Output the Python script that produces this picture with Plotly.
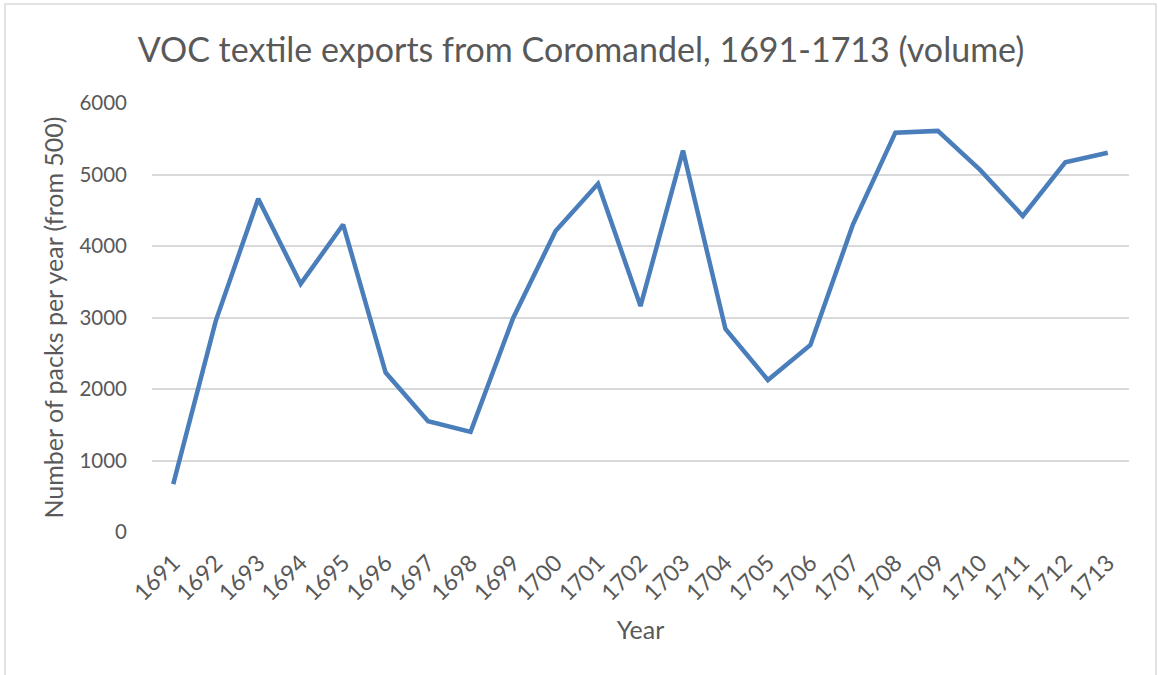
import plotly.graph_objects as go

years = [str(y) for y in range(1691, 1714)]
packs = [670, 2950, 4660, 3470, 4300, 2230, 1550, 1400, 2990, 4210, 4870, 3160,
         5335, 2840, 2125, 2615, 4300, 5585, 5610, 5060, 4420, 5170, 5305]
yticks = [0, 1000, 2000, 3000, 4000, 5000, 6000]

W, H = 1158, 675
L, R, T, B = 152, 29, 103, 143
pw, ph = W - L - R, H - T - B

fig = go.Figure()
fig.add_trace(go.Scatter(x=years, y=packs, mode="lines",
                         line=dict(color="#4a7ebb", width=4.5), hoverinfo="x+y"))

font = "Lato, 'Open Sans', sans-serif"
fig.update_layout(
    width=W, height=H,
    margin=dict(l=L, r=R, t=T, b=B, autoexpand=False),
    paper_bgcolor="white", plot_bgcolor="white",
    showlegend=False,
    font=dict(family=font, color="#595959"),
    title=dict(text="VOC textile exports from Coromandel, 1691-1713 (volume)",
               x=(581) / W, xanchor="center", y=1 - 50 / H, yanchor="middle",
               font=dict(size=34, color="#595959", family=font)),
    xaxis=dict(type="category", range=[-0.5, 22.5], tickangle=-45,
               showgrid=False, zeroline=False, showline=False, ticks="",
               ticklabelstandoff=12,
               tickfont=dict(size=23, color="#595959"),
               title=dict(text="Year", font=dict(size=25, color="#595959"), standoff=16)),
    yaxis=dict(range=[0, 6000], tickvals=yticks, showgrid=True, gridcolor="#d9d9d9",
               gridwidth=1.5, zeroline=False, showline=False, ticks="",
               ticklabelstandoff=24,
               tickfont=dict(size=20.5, color="#595959"),
               title=dict(text="Number of packs per year (from 500)",
                          font=dict(size=25, color="#595959"), standoff=8)),
)

# chart-area border
fig.add_shape(type="rect", xref="paper", yref="paper",
              x0=(5 - L) / pw, x1=(W - 2 - L) / pw,
              y0=-(B + 10) / ph, y1=(H - 4 - B) / ph,
              line=dict(color="#d9d9d9", width=1.5), fillcolor="rgba(0,0,0,0)", layer="below")

fig.write_html("out.html", config={"displayModeBar": False},
               post_script="document.body.style.margin='0';document.body.style.overflow='hidden';")
